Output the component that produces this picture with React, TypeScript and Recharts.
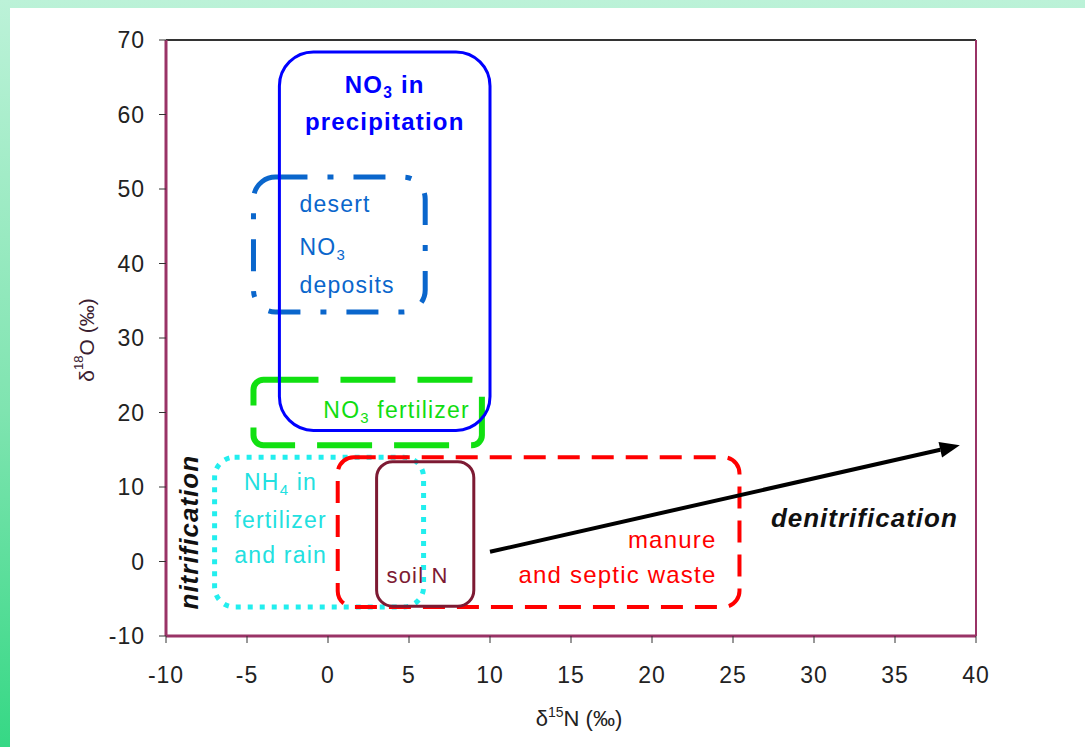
import React from "react";
import {
  ComposedChart,
  XAxis,
  YAxis,
  ReferenceArea,
  ReferenceLine,
} from "recharts";

// axis ticks
const xTicks = [-10, -5, 0, 5, 10, 15, 20, 25, 30, 35, 40];
const yTicks = [-10, 0, 10, 20, 30, 40, 50, 60, 70];

// source fields (δ15N / δ18O ranges, ‰)
const boxNames = ["desert", "nitrateFert", "precip", "ammonium", "manure", "soil"];
const boxX1 = [-4.6, -4.6, -3.0, -7.0, 0.6, 3.0];
const boxX2 = [6.0, 9.5, 10.0, 5.9, 25.4, 9.0];
const boxY1 = [33.5, 15.6, 17.6, -6.1, -6.1, -6.0];
const boxY2 = [51.6, 24.4, 68.4, 14.0, 14.0, 13.4];
const boxText = [
  ["desert", "NO{3}", "deposits"],
  ["NO{3} fertilizer"],
  ["NO{3} in", "precipitation"],
  ["NH{4} in", "fertilizer", "and rain"],
  ["manure", "and septic waste"],
  ["soil N"],
];

// denitrification arrow
const arrowX = [10, 39];
const arrowY = [1.3, 15.6];

const FONT = "'Liberation Sans', Arial, sans-serif";

type Rect = { x: number; y: number; width: number; height: number };
type Look = {
  stroke: string;
  width: number;
  dash?: string;
  r: number;
  color: string;
  size: number;
  bold?: boolean;
  anchor: "start" | "middle" | "end";
  tx: (b: Rect) => number;
  ty: (b: Rect, i: number) => number;
};

const LOOKS: Record<string, Look> = {
  desert: {
    stroke: "#0a66cc", width: 5, dash: "32 20 6 20", r: 22,
    color: "#0a66cc", size: 23, anchor: "start",
    tx: (b) => b.x + 46, ty: (b, i) => b.y + [35, 78, 116][i],
  },
  nitrateFert: {
    stroke: "#11e011", width: 6, dash: "55 22", r: 10,
    color: "#11dd11", size: 23, anchor: "end",
    tx: (b) => b.x + b.width - 12, ty: (b) => b.y + b.height - 27,
  },
  precip: {
    stroke: "#0000ff", width: 3, r: 34,
    color: "#0000ff", size: 24, bold: true, anchor: "middle",
    tx: (b) => b.x + b.width / 2, ty: (b, i) => b.y + [41, 78][i],
  },
  ammonium: {
    stroke: "#22eeee", width: 5, dash: "5 7", r: 20,
    color: "#22e0e0", size: 23, anchor: "middle",
    tx: (b) => b.x + 66, ty: (b, i) => b.y + [33, 71, 106][i],
  },
  manure: {
    stroke: "#ff0000", width: 4, dash: "22 12", r: 16,
    color: "#ff0000", size: 24, anchor: "end",
    tx: (b) => b.x + b.width - 23, ty: (b, i) => b.y + b.height - [59, 24][i],
  },
  soil: {
    stroke: "#7d1a33", width: 3, r: 16,
    color: "#7d1a33", size: 22, anchor: "middle",
    tx: (b) => b.x + 41, ty: (b) => b.y + b.height - 23,
  },
};

// "NO{3}" -> NO with subscript 3
function richLine(s: string, size: number) {
  const parts = s.split(/(\{[^}]+\})/).filter(Boolean);
  let shifted = false;
  return parts.map((p, k) => {
    if (p.startsWith("{")) {
      shifted = true;
      return (
        <tspan key={k} dy={5} fontSize={size * 0.65}>
          {p.slice(1, -1)}
        </tspan>
      );
    }
    const dy = shifted ? -5 : undefined;
    shifted = false;
    return (
      <tspan key={k} dy={dy}>
        {p}
      </tspan>
    );
  });
}

function boxShape(idx: number) {
  return (p: any) => {
    const look = LOOKS[boxNames[idx]];
    const b = { x: p.x, y: p.y, width: p.width, height: p.height };
    return (
      <g>
        <rect
          x={b.x}
          y={b.y}
          width={b.width}
          height={b.height}
          rx={look.r}
          ry={look.r}
          fill="none"
          stroke={look.stroke}
          strokeWidth={look.width}
          strokeDasharray={look.dash}
        />
        {boxText[idx].map((line, i) => (
          <text
            key={i}
            x={look.tx(b)}
            y={look.ty(b, i)}
            textAnchor={look.anchor}
            fill={look.color}
            fontSize={look.size}
            fontWeight={look.bold ? "bold" : "normal"}
            fontFamily={FONT}
            letterSpacing={1.2}
          >
            {richLine(line, look.size)}
          </text>
        ))}
        {boxNames[idx] === "ammonium" && (
          <text
            x={b.x - 26}
            y={b.y + 75}
            transform={`rotate(-90, ${b.x - 26}, ${b.y + 75})`}
            textAnchor="middle"
            dominantBaseline="central"
            fontSize={26}
            fontWeight="bold"
            fontStyle="italic"
            fontFamily={FONT}
            fill="#111"
            letterSpacing={1}
          >
            nitrification
          </text>
        )}
      </g>
    );
  };
}

function arrowShape(p: any) {
  const { x1, y1, x2, y2 } = p;
  const ang = Math.atan2(y2 - y1, x2 - x1);
  const len = 20;
  const half = 8;
  const bx = x2 - len * Math.cos(ang);
  const by = y2 - len * Math.sin(ang);
  const nx = -Math.sin(ang);
  const ny = Math.cos(ang);
  return (
    <g>
      <line x1={x1} y1={y1} x2={bx} y2={by} stroke="#000" strokeWidth={4} />
      <polygon
        points={`${x2},${y2} ${bx + nx * half},${by + ny * half} ${bx - nx * half},${by - ny * half}`}
        fill="#000"
      />
      <text
        x={x2 - 2}
        y={y2 + 82}
        textAnchor="end"
        fontSize={26}
        fontWeight="bold"
        fontStyle="italic"
        fontFamily={FONT}
        fill="#111"
        letterSpacing={1}
      >
        denitrification
      </text>
    </g>
  );
}

const tickStyle = { fill: "#222", fontSize: 23, fontFamily: FONT, letterSpacing: 1 };

export default function App() {
  return (
    <div
      style={{
        position: "absolute",
        left: 0,
        top: 0,
        width: 1085,
        height: 747,
        overflow: "hidden",
        background: "linear-gradient(to bottom, #bcf2d8 0%, #7fe4b0 55%, #36d885 100%)",
      }}
    >
      <div
        style={{
          position: "absolute",
          left: 10,
          top: 8,
          width: 1075,
          height: 739,
          background: "#fff",
        }}
      />
      <div style={{ position: "absolute", left: 0, top: 0 }}>
        <ComposedChart
          width={1085}
          height={747}
          data={arrowX.map((x, i) => ({ x, y: arrowY[i] }))}
          margin={{ top: 40, right: 109, bottom: 11, left: 106 }}
        >
          <XAxis
            type="number"
            dataKey="x"
            domain={[-10, 40]}
            ticks={xTicks}
            allowDataOverflow
            height={100}
            tick={tickStyle}
            tickSize={7}
            tickMargin={24}
            axisLine={{ stroke: "#993366", strokeWidth: 3 }}
            tickLine={{ stroke: "#333" }}
            label={{
              content: (lp: any) => {
                const vb = lp.viewBox || { x: 166, y: 636, width: 810 };
                const cx = vb.x + vb.width / 2 + 8;
                return (
                  <text
                    x={cx}
                    y={vb.y + 90}
                    textAnchor="middle"
                    fontSize={22}
                    fontFamily={FONT}
                    fill="#222"
                  >
                    δ<tspan dy={-9} fontSize={14}>15</tspan>
                    <tspan dy={9}>N (‰)</tspan>
                  </text>
                );
              },
            }}
          />
          <YAxis
            type="number"
            dataKey="y"
            domain={[-10, 70]}
            ticks={yTicks}
            allowDataOverflow
            width={60}
            tick={tickStyle}
            tickSize={7}
            tickMargin={14}
            axisLine={{ stroke: "#993366", strokeWidth: 3 }}
            tickLine={{ stroke: "#333" }}
            label={{
              content: (lp: any) => {
                const vb = lp.viewBox || { x: 106, y: 40, height: 596 };
                const cx = vb.x - 20;
                const cy = vb.y + vb.height / 2 + 2;
                return (
                  <text
                    x={cx}
                    y={cy}
                    transform={`rotate(-90, ${cx}, ${cy})`}
                    textAnchor="middle"
                    dominantBaseline="central"
                    fontSize={21}
                    fontFamily={FONT}
                    fill="#3a2030"
                  >
                    δ<tspan dy={-8} fontSize={13}>18</tspan>
                    <tspan dy={8}>O (‰)</tspan>
                  </text>
                );
              },
            }}
          />
          <ReferenceLine y={70} stroke="#333" strokeWidth={2} ifOverflow="visible" />
          <ReferenceLine x={40} stroke="#993366" strokeWidth={2} ifOverflow="visible" />
          {boxNames.map((name, i) => (
            <ReferenceArea
              key={name}
              x1={boxX1[i]}
              x2={boxX2[i]}
              y1={boxY1[i]}
              y2={boxY2[i]}
              ifOverflow="visible"
              shape={boxShape(i)}
            />
          ))}
          <ReferenceLine
            segment={[
              { x: arrowX[0], y: arrowY[0] },
              { x: arrowX[1], y: arrowY[1] },
            ]}
            ifOverflow="visible"
            shape={arrowShape}
          />
        </ComposedChart>
      </div>
    </div>
  );
}
